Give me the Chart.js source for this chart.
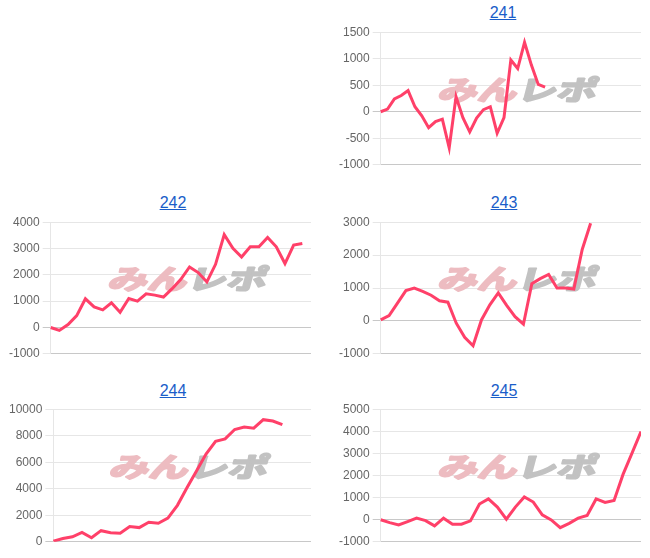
<!DOCTYPE html>
<html>
<head>
<meta charset="utf-8">
<script src="https://cdn.jsdelivr.net/npm/chart.js@4"></script>
<style>
  body { margin: 0; background: #fff; width: 650px; height: 558px; position: relative; overflow: hidden; font-family: 'Liberation Sans', Arial, sans-serif; }
  .ttl { position: absolute; width: 120px; text-align: center; font-size: 16px; }
  .ttl a { color: #1a5dc9; text-decoration: underline; }
  .box { position: absolute; }
</style>
</head>
<body>

<script>
// slot counts on the (hidden) x axis for each chart
const slots241 = 39;
const slots242 = 31;
const slots243 = 32;
const slots244 = 28;
const slots245 = 30;

const data241 = [0, 50, 240, 305, 400, 95, -75, -300, -185, -140, -680, 285, -110, -380, -120, 40, 95, -405, -110, 975, 815, 1310, 880, 515, 465];
const data242 = [0, -110, 110, 450, 1090, 785, 670, 940, 580, 1100, 1000, 1280, 1230, 1155, 1475, 1830, 2300, 2085, 1730, 2400, 3525, 3010, 2680, 3065, 3065, 3420, 3065, 2430, 3130, 3190];
const data243 = [30, 160, 540, 920, 1000, 900, 780, 610, 570, -70, -500, -755, 30, 490, 850, 470, 130, -100, 1130, 1285, 1410, 1000, 1000, 970, 2170, 2970];
const data244 = [50, 250, 380, 710, 300, 840, 690, 640, 1150, 1070, 1475, 1400, 1780, 2750, 4070, 5340, 6620, 7580, 7760, 8470, 8650, 8570, 9210, 9110, 8830];
const data245 = [0, -130, -240, -85, 70, -40, -280, 70, -205, -205, -55, 710, 940, 570, 20, 570, 1030, 800, 220, -10, -360, -165, 70, 190, 940, 780, 870, 2050, 3010, 3990];

// y ranges [min, max, step]
const range241 = [-1000, 1500, 500];
const range242 = [-1000, 4000, 1000];
const range243 = [-1000, 3000, 1000];
const range244 = [0, 10000, 2000];
const range245 = [-1000, 5000, 1000];

const charts = [
  { name: '241', slots: slots241, values: data241, range: range241, box: [336, 22, 305, 153], title: [443, 4] },
  { name: '242', slots: slots242, values: data242, range: range242, box: [6, 212, 305, 152], title: [113, 194] },
  { name: '243', slots: slots243, values: data243, range: range243, box: [336, 212, 305, 152], title: [444, 194] },
  { name: '244', slots: slots244, values: data244, range: range244, box: [6, 399, 305, 153], title: [113, 382] },
  { name: '245', slots: slots245, values: data245, range: range245, box: [336, 399, 305, 153], title: [444, 382] }
];

// watermark drawn under the line
const watermark = {
  id: 'watermark',
  beforeDatasetsDraw(chart) {
    const { ctx, chartArea } = chart;
    const cx = (chartArea.left + chartArea.right) / 2 + 8;
    const cy = (chartArea.top + chartArea.bottom) / 2 - 9;
    ctx.save();
    ctx.translate(cx, cy);
    ctx.scale(1.2, 0.82);
    ctx.transform(1, 0, -0.18, 1, 0, 0);
    ctx.font = "bold 33px 'Noto Sans CJK JP'";
    ctx.textBaseline = 'middle';
    const a = 'みん', b = 'レポ';
    const wa = ctx.measureText(a).width;
    const wb = ctx.measureText(b).width;
    const x0 = -(wa + wb) / 2;
    ctx.lineWidth = 2.5;
    ctx.lineJoin = 'round';
    ctx.fillStyle = ctx.strokeStyle = '#edbcc1';
    ctx.fillText(a, x0, 0);
    ctx.strokeText(a, x0, 0);
    ctx.fillStyle = ctx.strokeStyle = '#c2c2c2';
    ctx.fillText(b, x0 + wa, 0);
    ctx.strokeText(b, x0 + wa, 0);
    ctx.restore();
  }
};

charts.forEach(c => {
  const t = document.createElement('div');
  t.className = 'ttl';
  t.style.left = c.title[0] + 'px';
  t.style.top = c.title[1] + 'px';
  t.innerHTML = '<a href="#">' + c.name + '</a>';
  document.body.appendChild(t);

  const box = document.createElement('div');
  box.className = 'box';
  box.style.left = c.box[0] + 'px';
  box.style.top = c.box[1] + 'px';
  box.style.width = c.box[2] + 'px';
  box.style.height = c.box[3] + 'px';
  const cv = document.createElement('canvas');
  box.appendChild(cv);
  document.body.appendChild(box);

  const labels = [];
  for (let i = 0; i < c.slots; i++) labels.push(String(i + 1));

  new Chart(cv, {
    type: 'line',
    data: {
      labels: labels,
      datasets: [{
        data: c.values,
        borderColor: '#ff4069',
        borderWidth: 3,
        pointRadius: 0,
        tension: 0,
        fill: false
      }]
    },
    options: {
      responsive: true,
      maintainAspectRatio: false,
      animation: false,
      layout: { padding: 0 },
      plugins: { legend: { display: false }, tooltip: { enabled: false } },
      scales: {
        x: {
          ticks: { display: false },
          grid: { color: 'transparent', drawTicks: false },
          border: { color: '#c8c8c8' }
        },
        y: {
          min: c.range[0],
          max: c.range[1],
          ticks: { stepSize: c.range[2], color: '#666', font: { size: 12 }, callback: v => String(v) },
          grid: { color: ctx => ctx.tick && ctx.tick.value === 0 ? '#c8c8c8' : '#e6e6e6' },
          border: { color: '#e6e6e6' }
        }
      }
    },
    plugins: [watermark]
  });
});
</script>
</body>
</html>
